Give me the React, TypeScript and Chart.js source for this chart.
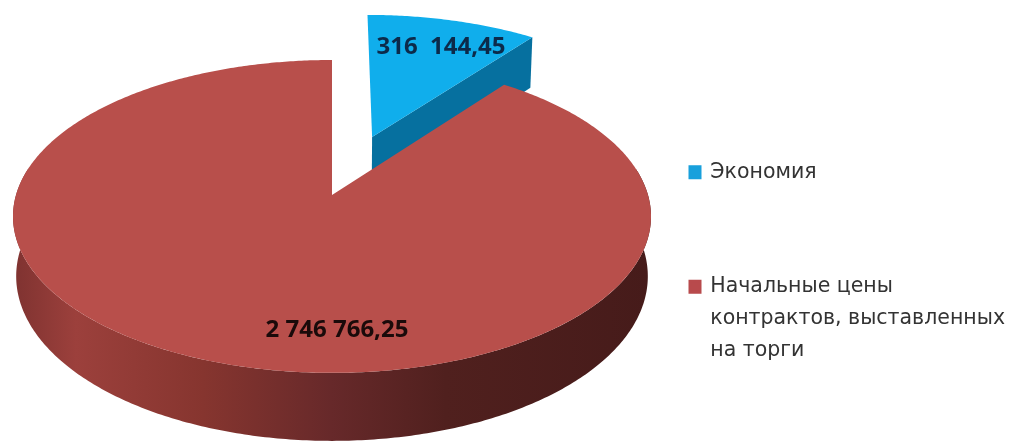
import React, { useEffect, useRef } from "react";
import { Chart, registerables } from "chart.js";

Chart.register(...registerables);

const categories: (string | string[])[] = [
  "Экономия",
  ["Начальные цены", "контрактов, выставленных", "на торги"],
];
const values = [316144.45, 2746766.25];
const valueLabels = ["316  144,45", "2 746 766,25"];
const legendColors = ["#18A0DC", "#B84A4C"];
const topColors = ["#10AEEC", "#B84F4B"];
const explode = [0.42, 0];

const W = 1014;
const H = 441;
const CX = 332;
const CY = 195;
const RX = 316;
const RY = 153.5;
const PERSP = 0.137;
const DEPTH = 58.7;

const project = (u: number, v: number, z = 0) => {
  const s = 1 / (1 + PERSP * v);
  return {
    x: CX + RX * u * s * (1 - 0.01 * z),
    y: CY - RY * v * s + DEPTH * z * s,
  };
};

const pie3d = {
  id: "pie3d",
  beforeDatasetsDraw(chart: any) {
    const ctx: CanvasRenderingContext2D = chart.ctx;
    const arcs = chart.getDatasetMeta(0).data;
    const geo = arcs.map((a: any, i: number) => {
      const t0 = a.startAngle + Math.PI / 2;
      const t1 = a.endAngle + Math.PI / 2;
      const mid = (t0 + t1) / 2;
      return { t0, t1, du: explode[i] * Math.sin(mid), dv: explode[i] * Math.cos(mid) };
    });
    const rim = (g: any, t: number, z = 0) =>
      project(g.du + Math.sin(t), g.dv + Math.cos(t), z);
    const poly = (pts: { x: number; y: number }[], fill: any) => {
      ctx.beginPath();
      pts.forEach((p, i) => (i ? ctx.lineTo(p.x, p.y) : ctx.moveTo(p.x, p.y)));
      ctx.closePath();
      ctx.fillStyle = fill;
      ctx.fill();
    };
    const topFace = (g: any, color: string) => {
      const pts = [project(g.du, g.dv)];
      const n = Math.ceil((g.t1 - g.t0) / 0.01);
      for (let k = 0; k <= n; k++) pts.push(rim(g, g.t0 + ((g.t1 - g.t0) * k) / n));
      poly(pts, color);
    };
    const blue = geo[0];
    const red = geo[1];

    // cut wall of the pulled-out slice
    poly(
      [
        project(blue.du, blue.dv),
        rim(blue, blue.t1),
        rim(blue, blue.t1, 1),
        project(blue.du, blue.dv, 1),
      ],
      "#06709F"
    );
    topFace(blue, topColors[0]);

    // outer wall of the large slice
    const a0 = Math.max(red.t0, (80 * Math.PI) / 180);
    const a1 = Math.min(red.t1, (280 * Math.PI) / 180);
    const wall: { x: number; y: number }[] = [];
    const steps = 300;
    for (let k = 0; k <= steps; k++) wall.push(rim(red, a0 + ((a1 - a0) * k) / steps));
    for (let k = steps; k >= 0; k--) wall.push(rim(red, a0 + ((a1 - a0) * k) / steps, 1));
    const grad = ctx.createLinearGradient(12, 0, 650, 0);
    grad.addColorStop(0, "#7E3230");
    grad.addColorStop(0.1, "#9C403C");
    grad.addColorStop(0.3, "#86352F");
    grad.addColorStop(0.5, "#67292A");
    grad.addColorStop(0.68, "#50201E");
    grad.addColorStop(1, "#461B1A");
    poly(wall, grad);
    topFace(red, topColors[1]);
    return false;
  },
  afterDraw(chart: any) {
    const ctx: CanvasRenderingContext2D = chart.ctx;
    ctx.save();
    ctx.textAlign = "center";
    ctx.textBaseline = "middle";
    ctx.font = "bold 24px 'Open Sans'";
    ctx.fillStyle = "#0C2A4A";
    ctx.fillText(valueLabels[0], 441, 47);
    ctx.fillStyle = "#1A0A0A";
    ctx.fillText(valueLabels[1], 337, 330);
    ctx.restore();
  },
};

export default function App() {
  const ref = useRef<HTMLCanvasElement>(null);
  useEffect(() => {
    document.body.style.margin = "0";
    const chart = new Chart(ref.current as HTMLCanvasElement, {
      type: "pie",
      data: {
        labels: categories as any,
        datasets: [
          {
            data: values,
            backgroundColor: legendColors,
            borderWidth: 0,
          },
        ],
      },
      plugins: [pie3d as any],
      options: {
        responsive: false,
        animation: false,
        layout: { padding: { top: 68, right: -178 } },
        plugins: {
          tooltip: { enabled: false },
          legend: {
            position: "right",
            align: "start",
            labels: {
              boxWidth: 10,
              boxHeight: 11,
              padding: 94,
              color: "#333333",
              font: { family: "'DejaVu Sans'", size: 20.5, lineHeight: "32px" },
              generateLabels: (c: any) =>
                (Chart as any).overrides.pie.plugins.legend.labels
                  .generateLabels(c)
                  .map((it: any) => ({ ...it, lineWidth: 3, strokeStyle: it.fillStyle })),
            },
          },
        },
      },
    } as any);
    return () => chart.destroy();
  }, []);
  return (
    <div style={{ position: "fixed", left: 0, top: 0, width: W, height: H, background: "#fff" }}>
      <canvas ref={ref} width={W} height={H} style={{ display: "block" }} />
    </div>
  );
}
